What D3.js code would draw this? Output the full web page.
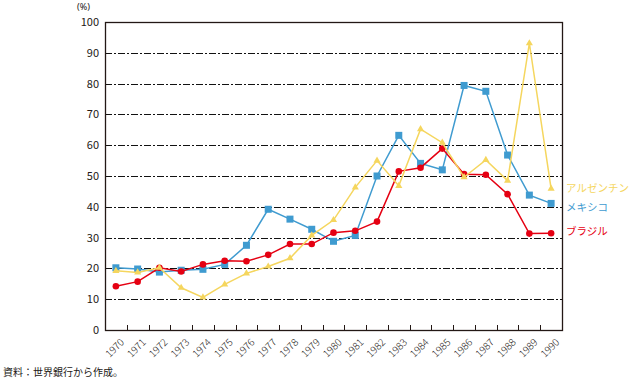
<!DOCTYPE html>
<html><head><meta charset="utf-8">
<script src="https://cdn.jsdelivr.net/npm/d3@7"></script>
<style>body{margin:0;background:#fff}svg{display:block}text{font-family:"Noto Sans CJK JP","Noto Sans",sans-serif}</style>
</head><body><svg id="c" width="629" height="380"></svg>
<script>
const years = ["1970","1971","1972","1973","1974","1975","1976","1977","1978","1979","1980","1981","1982","1983","1984","1985","1986","1987","1988","1989","1990"];
const mexico = [20.2,19.8,18.8,19.4,19.7,21.3,27.5,39.2,36.0,32.7,28.8,30.7,50.0,63.2,54.1,52.0,79.4,77.5,56.8,43.8,41.1];
const brazil = [14.2,15.7,20.2,19.0,21.3,22.5,22.3,24.4,27.9,27.9,31.6,32.2,35.2,51.5,52.7,58.9,50.6,50.4,44.1,31.3,31.4];
const argentina = [19.2,18.7,20.2,13.7,10.6,14.8,18.4,20.6,23.3,30.7,35.7,46.3,55.0,46.8,65.2,60.8,49.6,55.2,48.5,93.1,45.9];
const yTicks = [0,10,20,30,40,50,60,70,80,90,100];
const seriesNames = ["メキシコ","ブラジル","アルゼンチン"];

const svg = d3.select("#c");
const L=105, R=562, T=22, B=330;
const x = d3.scaleBand().domain(years).range([L,R]);
const y = d3.scaleLinear().domain([0,100]).range([B,T]);

// gridlines
svg.append("g").selectAll("line").data(yTicks.filter(d=>d>0&&d<100)).join("line")
  .attr("x1",L).attr("x2",R).attr("y1",d=>Math.round(y(d))+0.5).attr("y2",d=>Math.round(y(d))+0.5)
  .attr("stroke","#111").attr("stroke-width",1.1).attr("stroke-dasharray","7,2,2,2");

// frame
svg.append("rect").attr("x",L+0.5).attr("y",y(100)+0.5).attr("width",R-L).attr("height",B-y(100))
  .attr("fill","none").attr("stroke","#231815").attr("stroke-width",1.3);

// y axis labels
svg.append("g").selectAll("text").data(yTicks).join("text")
  .attr("x",L-6).attr("y",d=>y(d)+4).attr("text-anchor","end")
  .attr("font-size",11).attr("fill","#231815").text(d=>d);
svg.append("text").attr("x",77).attr("y",10).attr("font-size",9).attr("fill","#231815")
  .style("font-family","'Noto Sans',sans-serif").text("(%)");

// x ticks at band boundaries
const bounds = years.map(d=>x(d)).concat([R]).slice(1,-1);
svg.append("g").selectAll("line").data(bounds).join("line")
  .attr("x1",d=>Math.round(d)+0.5).attr("x2",d=>Math.round(d)+0.5).attr("y1",B).attr("y2",B-5)
  .attr("stroke","#231815").attr("stroke-width",1);

// x labels rotated
svg.append("g").selectAll("text").data(years).join("text")
  .attr("transform",d=>`translate(${x(d)+x.bandwidth()/2+4},${B+8}) rotate(-45)`)
  .attr("text-anchor","end").attr("dy","0.7em")
  .attr("font-size",10).attr("font-weight",300).attr("fill","#231815").text(d=>d);

const cx = d=>x(d)+x.bandwidth()/2;
const line = d3.line().x((v,i)=>cx(years[i])).y(v=>y(v));

const cM="#3f9bd0", cB="#e50012", cA="#f5d65e";
// Mexico
svg.append("path").datum(mexico).attr("d",line).attr("fill","none").attr("stroke",cM).attr("stroke-width",1.5);
svg.append("g").selectAll("rect").data(mexico).join("rect")
  .attr("x",(v,i)=>cx(years[i])-3.5).attr("y",v=>y(v)-3.5).attr("width",7).attr("height",7).attr("fill",cM);
// Brazil
svg.append("path").datum(brazil).attr("d",line).attr("fill","none").attr("stroke",cB).attr("stroke-width",1.5);
svg.append("g").selectAll("circle").data(brazil).join("circle")
  .attr("cx",(v,i)=>cx(years[i])).attr("cy",v=>y(v)).attr("r",3.3).attr("fill",cB);
// Argentina
svg.append("path").datum(argentina).attr("d",line).attr("fill","none").attr("stroke",cA).attr("stroke-width",1.5);
const tri = d3.symbol().type(d3.symbolTriangle).size(22);
svg.append("g").selectAll("path").data(argentina).join("path")
  .attr("d",tri).attr("transform",(v,i)=>`translate(${cx(years[i])},${y(v)})`).attr("fill",cA);

// series labels
const lab = [{n:seriesNames[2],c:cA,yy:192},{n:seriesNames[0],c:cM,yy:211},{n:seriesNames[1],c:cB,yy:235}];
svg.append("g").selectAll("text").data(lab).join("text")
  .attr("x",566).attr("y",d=>d.yy).attr("font-size",10.5).attr("fill",d=>d.c).text(d=>d.n);

svg.append("text").attr("x",3).attr("y",376).attr("font-size",10).attr("fill","#231815").text("資料：世界銀行から作成。");
</script></body></html>
